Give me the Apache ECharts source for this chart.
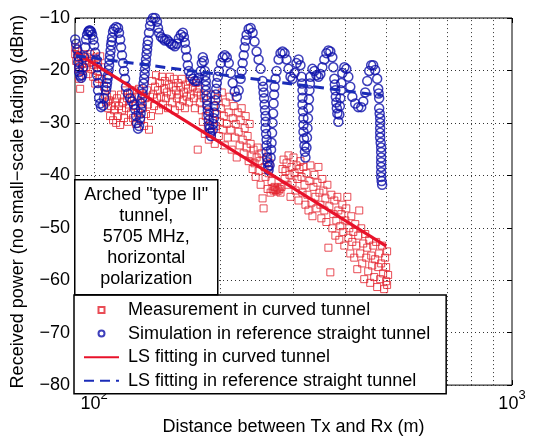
<!DOCTYPE html>
<html>
<head>
<meta charset="utf-8">
<script src="https://cdn.jsdelivr.net/npm/echarts@6/dist/echarts.min.js"></script>
<style>
  html, body { margin: 0; padding: 0; background: #fff; }
  #chart { width: 533px; height: 441px; }
</style>
</head>
<body>
<div id="chart"></div>
<script>
// measurement in curved tunnel: [distance (m), received power (dBm)]
const measured = [
  [90.1,-15.6],[90.1,-16.9],[90.6,-18.2],[91.1,-16.4],[91.6,-17.5],[91.6,-19.7],[92.1,-19.0],[92.1,-21.6],[92.6,-23.5],[93.1,-17.3],
  [93.6,-18.6],[94.1,-20.1],[94.7,-16.9],[95.2,-18.2],[95.7,-19.4],[96.2,-17.5],[96.8,-20.7],[97.3,-18.6],[97.8,-16.9],[98.4,-19.7],
  [98.9,-17.9],[99.5,-21.2],[100,-19.0],[100.6,-22.5],[101.1,-17.5],[101.7,-20.1],[102.2,-18.4],[102.8,-21.6],[103.4,-17.3],[103.9,-19.4],
  [104.5,-21.6],[105.6,-23.1],[106.2,-24.6],[106.8,-26.1],[107.4,-25.0],[108.0,-27.2],[108.6,-25.7],[109.2,-28.7],[109.8,-26.8],[110.4,-24.6],
  [111.0,-29.5],[111.6,-27.6],[112.2,-26.1],[112.9,-30.0],[113.5,-25.3],[114.1,-28.7],[114.7,-26.8],[115.4,-30.4],[116.0,-24.6],[116.6,-27.6],
  [117.3,-26.1],[117.9,-29.1],[118.6,-23.8],[119.2,-27.2],[119.9,-25.3],[120.5,-29.8],[121.2,-26.5],[121.9,-24.4],[122.5,-28.2],
  [123.2,-25.3],[123.9,-29.1],[124.6,-23.8],[125.3,-26.8],[126.0,-30.2],[126.6,-25.0],[127.4,-28.0],[128.1,-23.5],[128.8,-26.1],[129.5,-29.5],
  [130.2,-24.6],[130.9,-27.2],[131.7,-30.6],[132.4,-25.3],[133.1,-28.3],[133.9,-23.8],[134.6,-26.5],[135.3,-31.3],[136.1,-25.0],[136.8,-28.7],
  [137.5,-22.0],[138.3,-24.6],[139.1,-26.8],[139.9,-23.1],[140.6,-20.9],[141.4,-25.3],[142.2,-23.8],[143.0,-27.6],[143.7,-22.4],[144.5,-25.0],
  [145.3,-21.2],[146.1,-26.5],[146.9,-23.5],[147.7,-22.0],[148.5,-25.3],[149.3,-24.2],[150.2,-27.2],[151.0,-22.7],[151.8,-21.2],[152.7,-24.6],
  [153.5,-26.1],[154.3,-23.1],[155.2,-21.6],[156.0,-27.6],[156.9,-23.8],[157.8,-25.3],[158.6,-22.4],[159.5,-24.6],[160.4,-26.8],[161.3,-23.1],
  [162.2,-21.6],[163.1,-25.7],[164.0,-24.2],[164.9,-27.2],[165.8,-22.7],[166.7,-25.0],[167.6,-23.5],[168.5,-26.1],[169.5,-22.0],[170.4,-24.6],
  [172.3,-23.1],[173.3,-25.3],[174.2,-27.2],[175.1,-22.4],[176.1,-24.2],[177.0,-35.1],[178.0,-23.5],[179.0,-26.1],[180.0,-24.6],
  [181.0,-27.6],[182.0,-29.8],[183.0,-25.3],[184.0,-32.1],[185.0,-28.7],[186.1,-26.5],[187.1,-30.6],[188.1,-33.2],[189.1,-28.0],[190.2,-24.6],
  [191.2,-31.7],[192.3,-29.5],[193.4,-26.8],[194.4,-34.0],[195.5,-30.6],[196.6,-28.3],[197.7,-25.3],[198.8,-32.5],[200.0,-29.8],[201.0,-27.2],
  [202.1,-24.2],[203.2,-31.3],[204.3,-28.7],[205.4,-34.3],[206.5,-26.1],[207.7,-30.2],[208.8,-32.8],[210.0,-28.0],[211.1,-25.0],[212.3,-31.3],
  [213.4,-35.1],[214.6,-29.1],[215.8,-26.8],[217.0,-32.8],[218.2,-30.2],[219.4,-36.6],[220.6,-28.0],[221.8,-31.7],[223.0,-34.3],[224.2,-29.5],
  [225.5,-27.2],[226.7,-33.2],[228.0,-35.8],[229.2,-31.0],[230.5,-28.7],[231.7,-34.7],[233.0,-32.5],[234.3,-37.3],[235.6,-30.2],[236.9,-34.0],
  [238.2,-36.2],[239.5,-38.8],[240.8,-35.1],[242.1,-37.7],[243.5,-40.3],[244.8,-36.6],[246.2,-34.7],[247.5,-39.2],[248.9,-37.3],[250.3,-41.8],
  [251.6,-35.8],[253.0,-44.4],[254.4,-46.3],[255.8,-38.4],[257.2,-40.3],[258.7,-36.6],[260.1,-42.6],[261.5,-39.6],[263.0,-37.7],[264.4,-43.3],
  [265.8,-41.1],[267.3,-42.6],[268.8,-42.9],[270.3,-42.2],[271.8,-42.8],[273.3,-43.1],[274.8,-42.4],[276.3,-42.9],[277.8,-42.6],[279.3,-43.3],
  [280.9,-42.2],[282.4,-38.8],[284.0,-37.0],[285.6,-40.7],[287.1,-39.2],[288.7,-37.7],[290.3,-41.8],[291.9,-36.2],[293.5,-39.9],[295.1,-44.1],
  [296.7,-38.4],[298.4,-41.4],[300.0,-36.6],[301.7,-39.6],[303.3,-42.9],[305.0,-38.1],[306.7,-40.7],[308.4,-44.8],[310.0,-38.8],[311.7,-37.3],
  [313.5,-40.3],[315.2,-43.3],[316.9,-38.4],[318.7,-41.8],[320.4,-45.6],[322.2,-39.6],[324.0,-43.7],[325.8,-46.7],[327.6,-41.1],[329.3,-38.1],
  [331.2,-45.2],[333.0,-47.8],[334.8,-42.2],[336.7,-39.9],[338.5,-44.1],[340.4,-46.3],[342.3,-41.4],[344.2,-38.4],[346.1,-43.3],[347.9,-45.6],
  [349.8,-48.2],[351.7,-40.7],[353.7,-42.9],[355.6,-46.7],[357.6,-44.4],[359.6,-48.9],[361.6,-41.8],[363.6,-53.8],[365.6,-45.9],[367.5,-58.5],
  [369.6,-43.7],[371.6,-50.1],[373.6,-47.4],[375.7,-44.8],[377.8,-51.5],[379.9,-48.6],[382.0,-44.1],[384.1,-46.7],[386.2,-52.3],[388.3,-49.7],
  [390.5,-47.4],[392.6,-45.6],[394.8,-50.8],[397.0,-53.4],[399.1,-48.6],[401.3,-46.3],[403.6,-44.1],[405.8,-51.9],[408.0,-50.1],[410.2,-54.9],
  [412.5,-47.8],[414.8,-52.7],[417.1,-50.8],[419.3,-55.7],[421.6,-49.3],[424.0,-53.4],[426.3,-57.9],[428.6,-51.5],[431.0,-46.7],[433.3,-54.9],
  [435.7,-50.1],[438.1,-56.8],[440.6,-53.0],[443.0,-59.8],[445.4,-51.2],[447.9,-55.7],[450.4,-53.8],[452.8,-58.3],[455.3,-52.3],[457.8,-60.5],
  [460.3,-55.3],[462.9,-57.2],[465.4,-53.4],[468.0,-59.4],[470.5,-56.0],[473.1,-52.7],[475.7,-61.3],[478.4,-57.5],[481.0,-54.9],[483.6,-59.8],
  [486.3,-56.8],[488.9,-53.4],[491.6,-58.7],[494.3,-61.7],[497.0,-55.7],[499.8,-60.2],[499.8,-57.5],[502.5,-60.9],[502.5,-54.5],[505.3,-59.0]
];

// simulation in reference straight tunnel: [distance (m), received power (dBm)]
const simulated = [
  [90.1,-14.1],[90.6,-14.9],[91.1,-16.0],[91.6,-17.3],[91.6,-18.4],[92.1,-19.4],[92.1,-20.3],[92.6,-21.0],[93.1,-21.4],[93.6,-20.9],
  [94.1,-19.4],[94.7,-17.5],[95.2,-15.6],[95.7,-14.1],[96.2,-13.2],[96.8,-12.6],[97.3,-12.4],[97.8,-12.4],[98.4,-12.6],[98.9,-13.2],
  [99.5,-14.1],[100,-15.2],[100.6,-16.6],[101.1,-17.9],[101.7,-19.4],[101.7,-20.9],[102.2,-22.4],[102.2,-23.8],[102.8,-25.2],[103.4,-26.3],
  [103.9,-27.0],[105.1,-26.7],[105.6,-25.3],[106.8,-23.8],[107.4,-22.4],[108.0,-20.9],[108.6,-19.0],[109.2,-17.1],[109.8,-15.2],[110.4,-13.7],
  [111.0,-12.6],[111.6,-12.1],[112.9,-11.7],[114.1,-11.9],[114.7,-12.8],[115.4,-14.1],[116.0,-15.6],[116.6,-17.1],[117.3,-18.6],[117.9,-20.1],
  [118.6,-21.6],[119.2,-23.1],[120.5,-24.4],[121.9,-25.3],[123.2,-25.9],[124.6,-26.5],[125.3,-27.4],[126.0,-28.7],[126.6,-30.0],[127.4,-31.1],
  [128.1,-30.6],[128.8,-29.1],[129.5,-27.2],[130.2,-25.3],[130.9,-23.5],[131.7,-21.6],[132.4,-19.7],[133.1,-17.9],[133.9,-16.0],[134.6,-14.3],
  [135.3,-12.8],[136.1,-11.5],[136.8,-10.6],[138.3,-10.0],[139.9,-10.0],[141.4,-10.7],[142.2,-11.9],[143.0,-12.8],[144.5,-13.6],[146.1,-13.9],
  [147.7,-14.3],[149.3,-14.1],[151.0,-14.5],[152.7,-14.9],[154.3,-15.1],[156.0,-15.4],[157.8,-14.9],[159.5,-13.9],[161.3,-13.2],[163.1,-12.8],
  [164.0,-13.6],[164.9,-14.7],[165.8,-16.0],[166.7,-17.5],[167.6,-19.0],[168.5,-20.1],[170.4,-21.0],[172.3,-21.6],[174.2,-22.0],[176.1,-22.0],
  [178.0,-21.4],[180.0,-20.1],[181.0,-18.6],[182.0,-17.5],[183.0,-18.2],[184.0,-20.1],[185.0,-22.0],[185.0,-23.8],[186.1,-25.7],[187.1,-27.6],
  [188.1,-29.5],[189.1,-31.1],[190.2,-32.5],[192.3,-31.3],[193.4,-29.1],[194.4,-26.8],[195.5,-24.6],[196.6,-22.4],[198.8,-20.1],[201.0,-18.6],
  [203.2,-17.5],[205.4,-17.1],[207.7,-17.5],[210.0,-18.6],[212.3,-20.5],[214.6,-22.4],[217.0,-24.0],[219.4,-25.0],[221.8,-23.8],[224.2,-21.6],
  [226.7,-18.6],[229.2,-15.6],[231.7,-13.2],[234.3,-12.1],[236.9,-11.9],[239.5,-12.8],[242.1,-14.5],[244.8,-16.4],[247.5,-17.9],[250.3,-19.7],
  [253.0,-22.0],[254.4,-24.2],[255.8,-26.5],[257.2,-28.7],[257.2,-31.0],[258.7,-33.2],[258.7,-35.5],[260.1,-37.5],[261.5,-39.0],[264.4,-36.6],
  [265.8,-33.8],[267.3,-30.0],[268.8,-26.3],[270.3,-23.1],[273.3,-20.1],[276.3,-17.9],[279.3,-16.7],[282.4,-16.4],[285.6,-16.7],[288.7,-17.9],
  [291.9,-19.7],[295.1,-21.2],[298.4,-21.6],[301.7,-20.5],[305.0,-18.6],[308.4,-17.9],[311.7,-19.0],[313.5,-21.2],[315.2,-23.8],[315.2,-26.5],
  [316.9,-29.1],[316.9,-31.7],[318.7,-34.3],[320.4,-36.6],[322.2,-34.7],[324.0,-31.0],[325.8,-27.2],[327.6,-23.8],[329.3,-21.2],[333.0,-19.7],
  [336.6,-20.1],[340.4,-20.9],[344.2,-21.2],[347.9,-20.7],[351.7,-19.4],[355.6,-17.9],[359.6,-16.7],[363.6,-16.2],[367.5,-16.4],[371.6,-17.5],
  [373.6,-19.4],[375.7,-21.6],[377.8,-23.8],[379.9,-26.1],[382.0,-28.2],[384.1,-29.8],[386.2,-28.4],[388.3,-25.3],[390.5,-22.4],[392.6,-20.5],
  [397.0,-19.4],[401.3,-19.7],[405.8,-21.2],[410.2,-23.1],[414.8,-25.0],[421.6,-26.3],[428.6,-27.0],[435.7,-27.0],[440.6,-25.9],[445.4,-24.2],
  [450.4,-22.0],[455.3,-20.1],[460.3,-19.0],[465.4,-19.0],[470.5,-19.9],[475.7,-21.6],[478.4,-23.5],[481.0,-25.3],[481.0,-27.2],[483.6,-29.1],
  [483.6,-31.0],[483.6,-32.8],[486.3,-34.7],[486.3,-36.6],[486.3,-38.4],[486.3,-40.3],[488.9,-41.8],
  // denser circles along the steep parts
  [253.7,-23.1],[255.1,-25.3],[256.5,-27.6],[257.2,-29.8],[258.0,-32.1],[258.7,-34.3],[259.4,-36.6],[260.8,-38.4],
  [263.0,-38.1],[265.1,-35.1],[266.6,-31.9],[268.1,-28.2],[269.5,-24.6],[271.8,-21.6],
  [314.4,-22.5],[315.2,-25.2],[316.0,-27.8],[316.9,-30.4],[317.8,-33.0],[319.5,-35.5],
  [323.1,-32.8],[324.9,-29.1],[326.7,-25.5],[328.4,-22.5],
  [376.7,-22.7],[378.8,-25.0],[380.9,-27.2],[387.3,-26.8],[389.4,-23.8],
  [479.7,-24.4],[482.3,-28.2],[483.6,-30.0],[483.6,-31.9],[485.0,-33.8],[486.3,-35.6],[486.3,-37.5],[486.3,-39.4],[487.6,-41.1],
  [129.2,-28.2],[129.9,-26.3],[130.6,-24.4],[131.3,-22.5],[132.1,-20.7],[132.8,-18.8],[133.5,-16.9],[134.2,-15.1],
  [184.5,-21.0],[185.0,-22.9],[185.6,-24.8],[186.6,-26.7],[187.6,-28.5],[188.6,-30.4],[189.6,-31.9],
  [192.8,-30.2],[193.9,-28.0],[195.0,-25.7],[196.0,-23.5],[197.7,-21.2],
  [225.5,-20.1],[228.0,-17.1],[230.5,-14.3],
  [107.1,-23.1],[107.7,-21.6],[108.3,-19.9],[108.9,-18.0],[109.5,-16.2],[110.1,-14.5]
];

// least-squares fits (straight in log distance)
const fitCurved = [[90.5, -16.6], [500, -53.5]];
const fitStraight = [[90.5, -17.2], [488, -24.8]];

const seriesNames = [
  'Measurement in curved tunnel',
  'Simulation in reference straight tunnel',
  'LS fitting in curved tunnel',
  'LS fitting in reference straight tunnel'
];
const xGridValues = [100, 200, 300, 400, 500, 600, 700, 800, 900];
const noteLines = ['Arched "type II"', 'tunnel,', '5705 MHz,', 'horizontal', 'polarization'];

const FONT = 'Liberation Sans, Arial, Helvetica, sans-serif';
const RED = '#e3202c';
const BLUE = '#0e10aa';
const dotted = { type: [1, 3], color: '#333', width: 1 };

// small marker centred in a 35x7 legend slot
const squareIcon = 'path://M0,0M35,7M14.5,0.5L20.5,0.5L20.5,6.5L14.5,6.5Z';
const circleIcon = 'path://M0,0M35,7M20.5,3.5A3,3,0,1,1,14.5,3.5A3,3,0,1,1,20.5,3.5Z';

const chart = echarts.init(document.getElementById('chart'));

const powerLabel = v => {
  const p = Math.log10(v);
  if (Math.abs(p - Math.round(p)) > 1e-6) return '';
  return '{b|10}{s|' + Math.round(p) + '}';
};

chart.setOption({
  animation: false,
  backgroundColor: '#fff',
  textStyle: { fontFamily: FONT },
  grid: {
    left: 75, right: 21, top: 18, bottom: 49,
    show: true, borderColor: '#000', borderWidth: 1, backgroundColor: '#fff'
  },
  xAxis: [{
    type: 'log', logBase: 10, min: 90, max: 1000,
    name: 'Distance between Tx and Rx (m)',
    nameLocation: 'middle', nameGap: 30,
    nameTextStyle: { fontSize: 18, color: '#000', fontFamily: FONT },
    axisLine: { show: false },
    axisTick: { show: true, inside: true, length: 5, lineStyle: { color: '#000' } },
    splitLine: { show: false },
    axisLabel: {
      showMinLabel: false, margin: 4, color: '#000', formatter: powerLabel,
      rich: {
        b: { fontSize: 18, fontFamily: FONT, color: '#000', lineHeight: 24, verticalAlign: 'bottom' },
        s: { fontSize: 13, fontFamily: FONT, color: '#000', lineHeight: 14, verticalAlign: 'top' }
      }
    }
  }, {
    type: 'log', logBase: 10, min: 90, max: 1000, position: 'top',
    axisLine: { show: false }, axisLabel: { show: false }, splitLine: { show: false },
    axisTick: { show: true, inside: true, length: 5, lineStyle: { color: '#000' } }
  }],
  yAxis: [{
    type: 'value', min: -80, max: -10, interval: 10,
    name: 'Received power (no small\u2212scale fading) (dBm)',
    nameLocation: 'middle', nameGap: 48,
    nameTextStyle: { fontSize: 18, color: '#000', fontFamily: FONT },
    axisLine: { show: false },
    axisTick: { show: true, inside: true, length: 5, lineStyle: { color: '#000' } },
    splitLine: { show: true, lineStyle: dotted },
    axisLabel: {
      fontSize: 18, color: '#000', margin: 5, fontFamily: FONT,
      formatter: v => (v < 0 ? '\u2212' : '') + Math.abs(v)
    }
  }, {
    type: 'value', min: -80, max: -10, interval: 10, position: 'right',
    axisLine: { show: false }, axisLabel: { show: false }, splitLine: { show: false },
    axisTick: { show: true, inside: true, length: 5, lineStyle: { color: '#000' } }
  }],
  legend: {
    data: [
      { name: seriesNames[0], icon: squareIcon },
      { name: seriesNames[1], icon: circleIcon },
      { name: seriesNames[2], itemStyle: { opacity: 0 } },
      { name: seriesNames[3], itemStyle: { opacity: 0 } }
    ],
    orient: 'vertical',
    left: 74, top: 295,
    padding: [5, 16, 3, 9],
    itemGap: 3.6,
    itemWidth: 35, itemHeight: 7,
    backgroundColor: '#fff',
    borderColor: '#000', borderWidth: 1.5,
    textStyle: { fontSize: 18, color: '#000', fontFamily: FONT, lineHeight: 20, padding: [0, 0, 0, 4] },
    selectedMode: false
  },
  graphic: [{
    type: 'group', left: 74, top: 179, z: 100,
    children: [{
      type: 'rect', z: 100,
      shape: { x: 0, y: 0, width: 143, height: 115 },
      style: { fill: '#fff', stroke: '#000', lineWidth: 1.5 }
    }, {
      type: 'text', z: 101, x: 71.5, y: 57.5,
      style: {
        text: noteLines.join('\n'), align: 'center', verticalAlign: 'middle',
        fontSize: 18, fontFamily: FONT, lineHeight: 21, fill: '#000'
      }
    }]
  }],
  series: [{
    type: 'line', name: 'grid', data: [], silent: true,
    markLine: {
      silent: true, symbol: ['none', 'none'], label: { show: false }, z: 1,
      lineStyle: dotted,
      data: xGridValues.map(v => ({ xAxis: v }))
    }
  }, {
    type: 'scatter', name: seriesNames[0], data: measured,
    symbol: 'rect', symbolSize: 7,
    itemStyle: { color: 'rgba(0,0,0,0)', borderColor: RED, borderWidth: 1 }
  }, {
    type: 'scatter', name: seriesNames[1], data: simulated,
    symbol: 'circle', symbolSize: 9,
    itemStyle: { color: 'rgba(0,0,0,0)', borderColor: BLUE, borderWidth: 1.5 }
  }, {
    type: 'line', name: seriesNames[2], data: fitCurved,
    symbol: 'none', z: 3,
    lineStyle: { color: '#e8122a', width: 3 }
  }, {
    type: 'line', name: seriesNames[3], data: fitStraight,
    symbol: 'none', z: 3,
    lineStyle: { color: '#1a2cb8', width: 3, type: [10, 6] }
  }]
});
</script>
</body>
</html>
